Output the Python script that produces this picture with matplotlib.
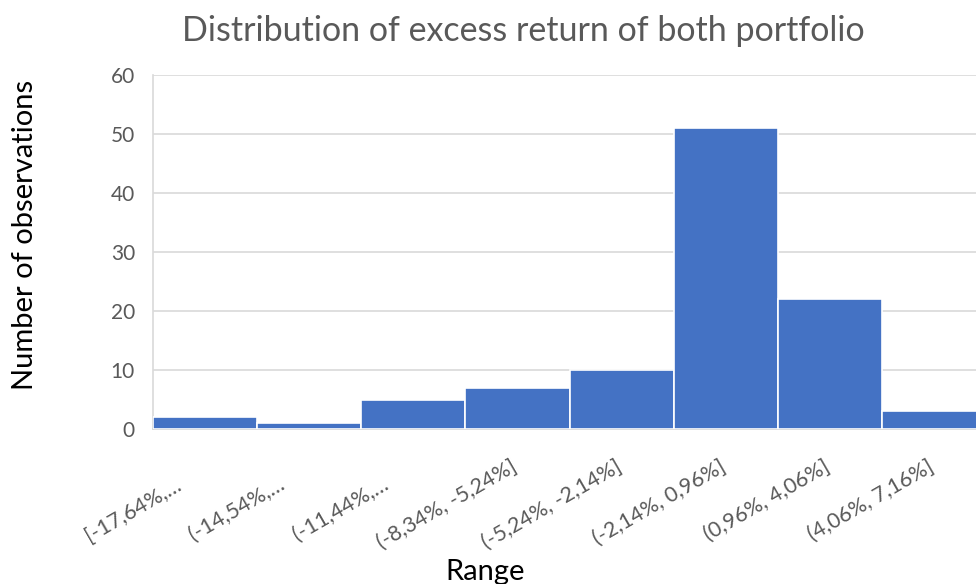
import matplotlib
matplotlib.use("Agg")
import matplotlib.pyplot as plt
import matplotlib.transforms as mtransforms
import numpy as np

# Histogram bins of the excess return and their counts
categories = ["[-17,64%,\u2026", "(-14,54%,\u2026", "(-11,44%,\u2026", "(-8,34%, -5,24%]",
              "(-5,24%, -2,14%]", "(-2,14%, 0,96%]", "(0,96%, 4,06%]", "(4,06%, 7,16%]"]
counts = [2, 1, 5, 7, 10, 51, 22, 3]
y_ticks = [0, 10, 20, 30, 40, 50, 60]

plt.rcParams["font.family"] = ["Lato", "DejaVu Sans"]

fig = plt.figure(figsize=(9.76, 5.84), dpi=100)
W, H = 976, 584
x0, x1, ytop, ybot = 153, 986, 75, 429
ax = fig.add_axes([x0 / W, 1 - ybot / H, (x1 - x0) / W, (ybot - ytop) / H])

x = np.arange(len(categories))
ax.bar(x, counts, width=1.0, color="#4472C4", edgecolor="white", linewidth=1.2, zorder=3)

ax.set_xlim(-0.5, len(categories) - 0.5)
ax.set_ylim(0, 60)
ax.set_yticks(y_ticks)
ax.grid(axis="y", color="#D9D9D9", linewidth=1.2, zorder=0)
for s in ["top", "right"]:
    ax.spines[s].set_visible(False)
ax.spines["left"].set_color("#D9D9D9")
ax.spines["bottom"].set_color("#D9D9D9")
ax.spines["left"].set_linewidth(1.2)
ax.spines["bottom"].set_linewidth(1.2)
ax.tick_params(axis="y", length=0, pad=13, labelsize=15, labelcolor="#595959")
ax.tick_params(axis="x", length=0, pad=26, labelsize=15.5, labelcolor="#595959")

ax.set_xticks(x)
ax.set_xticklabels(categories, rotation=30, ha="right", va="center", rotation_mode="anchor")

# shortened labels sit a little further back along their slant
for lbl in ax.get_xticklabels():
    if lbl.get_text().endswith("\u2026"):
        dx, dy = -26 / 100, -18 / 100
    else:
        dx, dy = -2 / 100, 0
    lbl.set_transform(lbl.get_transform() +
                      mtransforms.ScaledTranslation(dx, dy, fig.dpi_scale_trans))

fig.text(523 / W, 1 - 31 / H, "Distribution of excess return of both portfolio",
         ha="center", va="center", fontsize=24.5, color="#595959")
fig.text(25 / W, 1 - 235 / H, "Number of observations", rotation=90,
         ha="center", va="center", fontsize=21, color="#000000")
fig.text(485 / W, 1 - 572 / H, "Range", ha="center", va="center", fontsize=21, color="#000000")

fig.savefig("out.png", dpi=100)
